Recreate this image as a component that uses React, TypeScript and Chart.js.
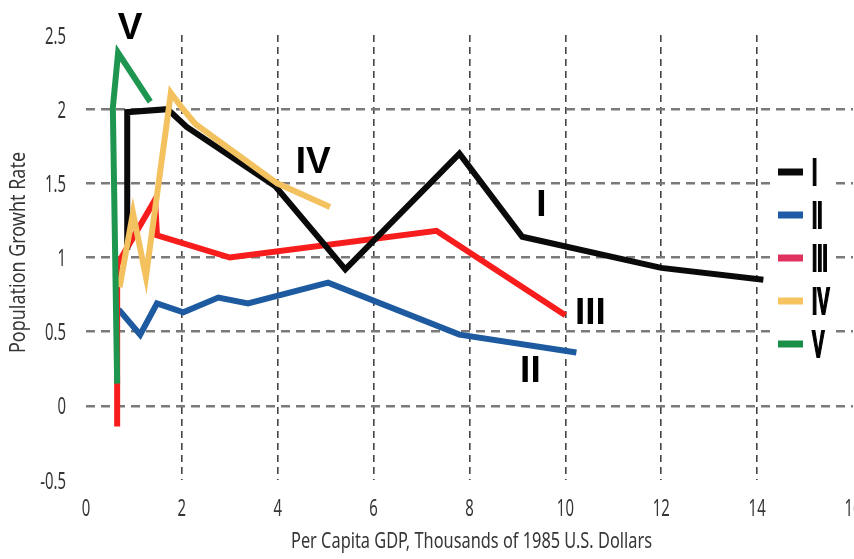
import React, { useEffect, useRef } from "react";
import { Chart, registerables } from "chart.js";

Chart.register(...registerables);

// ---- Data ----
const xTicks = [0, 2, 4, 6, 8, 10, 12, 14, 16];
const xTickLabels = ["0", "2", "4", "6", "8", "10", "12", "14", "16"];
const yTicks = [-0.5, 0, 0.5, 1, 1.5, 2, 2.5];
const yTickLabels = ["-0.5", "0", "0.5", "1", "1.5", "2", "2.5"];
const seriesNames = ["I", "II", "III", "IV", "V"];
const xTitle = "Per Capita GDP, Thousands of 1985 U.S. Dollars";
const yTitle = "Population Growht Rate";

const gdpI = [0.86, 0.86, 1.7, 2.1, 3.95, 5.41, 7.79, 9.1, 12.0, 14.13];
const rateI = [1.05, 1.98, 2.0, 1.88, 1.48, 0.92, 1.7, 1.14, 0.93, 0.85];

const gdpII = [0.68, 1.13, 1.48, 2.03, 2.76, 3.38, 5.05, 7.79, 10.23];
const rateII = [0.65, 0.48, 0.69, 0.63, 0.73, 0.69, 0.83, 0.48, 0.36];

const gdpIII = [0.65, 0.65, 1.44, 1.48, 3.0, 7.31, 10.0];
const rateIII = [-0.14, 0.95, 1.39, 1.15, 1.0, 1.18, 0.61];

const gdpIV = [0.7, 0.98, 1.25, 1.77, 2.0, 2.28, 3.99, 5.09];
const rateIV = [0.8, 1.3, 0.87, 2.11, 2.01, 1.9, 1.5, 1.34];

const gdpV = [0.65, 0.56, 0.67, 1.34];
const rateV = [0.15, 2.01, 2.38, 2.05];

const annotationText = ["V", "IV", "I", "III", "II"];
const annotationX = [0.92, 4.74, 9.5, 10.52, 9.27];
const annotationY = [2.54, 1.64, 1.35, 0.62, 0.23];

// ---- Styles ----
const lineColors = ["#0a0a0a", "#1d5aa0", "#f81d1d", "#f4c15f", "#1f9650"];
const legendColors = ["#0a0a0a", "#1f5aa6", "#e0325f", "#f5c45e", "#1a8f48"];
const drawOrder = [2, 4, 3, 1, 0];

const SANS = "'Noto Sans', 'Open Sans', 'DejaVu Sans', sans-serif";
const BOLD = "'Liberation Sans', Arial, sans-serif";
const TEXT_GREY = "#363636";

const zip = (xs: number[], ys: number[]) => xs.map((x, i) => ({ x, y: ys[i] }));
const seriesX = [gdpI, gdpII, gdpIII, gdpIV, gdpV];
const seriesY = [rateI, rateII, rateIII, rateIV, rateV];

function squeezedText(
  ctx: CanvasRenderingContext2D,
  text: string,
  x: number,
  y: number,
  sx: number,
  align: CanvasTextAlign,
  rotate = 0,
  outline = 0
) {
  ctx.save();
  ctx.translate(x, y);
  if (rotate) ctx.rotate(rotate);
  ctx.scale(sx, 1);
  ctx.textAlign = align;
  ctx.fillText(text, 0, 0);
  if (outline) {
    ctx.lineWidth = outline;
    ctx.strokeStyle = ctx.fillStyle as string;
    ctx.strokeText(text, 0, 0);
  }
  ctx.restore();
}

const textPlugin = {
  id: "axisText",
  afterDraw(chart: any) {
    const { ctx, chartArea } = chart;
    const xs = chart.scales.x;
    const ys = chart.scales.y;
    ctx.save();
    ctx.fillStyle = TEXT_GREY;
    ctx.textBaseline = "alphabetic";
    ctx.font = `24px ${SANS}`;
    const digitHalf = 8.5;
    xTicks.forEach((v, i) => {
      squeezedText(ctx, xTickLabels[i], xs.getPixelForValue(v), chartArea.bottom + 27 + digitHalf, 0.62, "center");
    });
    yTicks.forEach((v, i) => {
      squeezedText(ctx, yTickLabels[i], chartArea.left - 20, ys.getPixelForValue(v) + digitHalf, 0.62, "right");
    });
    // axis titles, fitted to measured widths
    ctx.font = `21px ${SANS}`;
    const wx = ctx.measureText(xTitle).width;
    squeezedText(ctx, xTitle, (chartArea.left + chartArea.right) / 2 + 2, chartArea.bottom + 68, 361 / wx, "center");
    ctx.font = `21px ${SANS}`;
    const wy = ctx.measureText(yTitle).width;
    squeezedText(ctx, yTitle, 25, (chartArea.top + chartArea.bottom) / 2 - 5, 201 / wy, "center", -Math.PI / 2);
    ctx.restore();
  },
};

const overlayPlugin = {
  id: "overlay",
  afterDatasetsDraw(chart: any) {
    const { ctx, chartArea } = chart;
    const xs = chart.scales.x;
    const ys = chart.scales.y;
    ctx.save();
    // annotations
    ctx.fillStyle = "#000";
    ctx.font = `bold 37px ${BOLD}`;
    ctx.textAlign = "center";
    ctx.textBaseline = "middle";
    annotationText.forEach((t, i) => {
      ctx.fillText(t, xs.getPixelForValue(annotationX[i]), ys.getPixelForValue(annotationY[i]));
    });
    // legend
    const left = chartArea.right - 75;
    const top0 = chartArea.top + 137;
    ctx.fillStyle = "#ffffff";
    ctx.fillRect(left - 6, top0 - 20, 64, 215);
    ctx.font = `bold 36px ${BOLD}`;
    ctx.textBaseline = "alphabetic";
    seriesNames.forEach((name, i) => {
      const yy = top0 + i * 43;
      ctx.strokeStyle = legendColors[i];
      ctx.lineWidth = 7;
      ctx.lineCap = "butt";
      ctx.beginPath();
      ctx.moveTo(left, yy);
      ctx.lineTo(left + 25, yy);
      ctx.stroke();
      ctx.fillStyle = "#000";
      squeezedText(ctx, name, left + 34, yy + 13, 0.52, "left", 0, 2);
    });
    ctx.restore();
  },
};

export default function App() {
  const ref = useRef<HTMLCanvasElement | null>(null);

  useEffect(() => {
    if (!ref.current) return;
    const chart = new Chart(ref.current, {
      type: "line",
      data: {
        datasets: seriesNames.map((name, i) => ({
          label: name,
          data: zip(seriesX[i], seriesY[i]),
          borderColor: lineColors[i],
          backgroundColor: lineColors[i],
          borderWidth: 6,
          pointRadius: 0,
          tension: 0,
          fill: false,
          borderJoinStyle: "miter" as const,
          order: drawOrder[i],
        })),
      },
      options: {
        animation: false,
        responsive: false,
        devicePixelRatio: 1,
        layout: { padding: { left: 0, right: 27, top: 35, bottom: 0 } },
        plugins: {
          legend: { display: false },
          tooltip: { enabled: false },
        },
        scales: {
          x: {
            type: "linear",
            min: 0,
            max: 16,
            afterBuildTicks: (s: any) => {
              s.ticks = xTicks.map((v) => ({ value: v }));
            },
            afterFit: (s: any) => {
              s.height = 79;
            },
            grid: {
              drawTicks: false,
              lineWidth: 1.6,
              color: (c: any) =>
                c.tick && c.tick.value > 0 && c.tick.value < 16 ? "#444444" : "rgba(0,0,0,0)",
            },
            border: { display: false, dash: [7, 5] },
            ticks: { display: false },
          },
          y: {
            type: "linear",
            min: -0.5,
            max: 2.5,
            afterBuildTicks: (s: any) => {
              s.ticks = yTicks.map((v) => ({ value: v }));
            },
            afterFit: (s: any) => {
              s.width = 86;
            },
            grid: {
              drawTicks: false,
              lineWidth: 2.5,
              color: (c: any) =>
                c.tick && c.tick.value > -0.25 && c.tick.value < 2.25 ? "#7a7a7a" : "rgba(0,0,0,0)",
            },
            border: { display: false, dash: [9, 6] },
            ticks: { display: false },
          },
        },
      },
      plugins: [overlayPlugin, textPlugin],
    });
    return () => chart.destroy();
  }, []);

  return (
    <div
      style={{
        position: "fixed",
        left: 0,
        top: 0,
        width: 854,
        height: 559,
        overflow: "hidden",
        background: "#ffffff",
      }}
    >
      <canvas ref={ref} width={880} height={559} style={{ width: 880, height: 559, display: "block" }} />
    </div>
  );
}
